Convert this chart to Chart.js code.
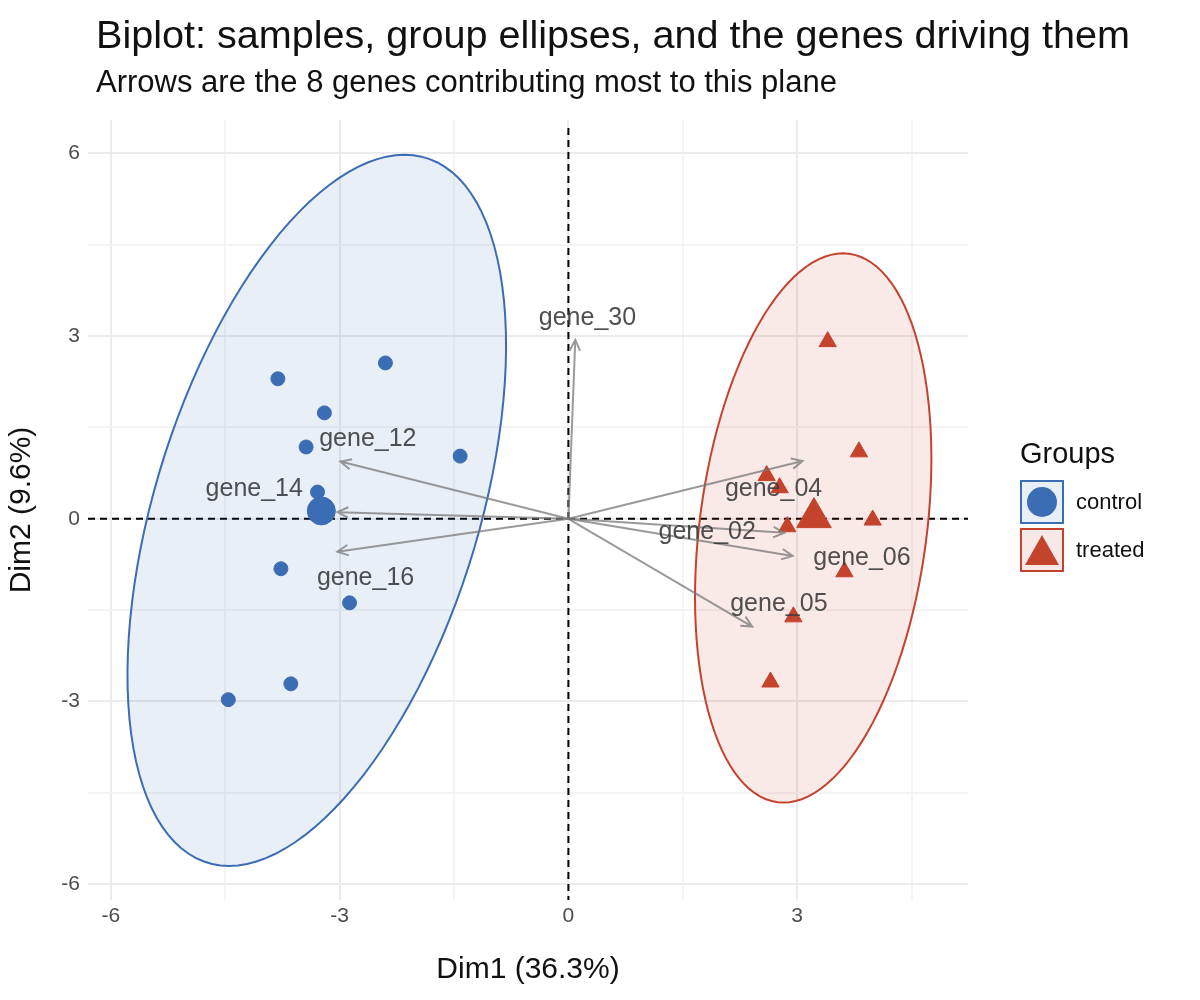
<!DOCTYPE html>
<html><head><meta charset="utf-8">
<script src="https://cdn.jsdelivr.net/npm/chart.js@4"></script>
<style>
body{margin:0;background:#fff;font-family:"Liberation Sans",Arial,sans-serif;}
#wrap{position:relative;width:1200px;height:1000px;}
#t{position:absolute;left:96px;top:12px;font-size:39.6px;color:#111;white-space:nowrap;}
#s{position:absolute;left:96px;top:64px;font-size:31px;color:#111;white-space:nowrap;}
#lg{position:absolute;left:1020px;top:437px;font-size:29px;color:#111;}
.it{display:flex;align-items:center;margin-top:10px;font-size:22px;}
.bx{width:44px;height:44px;border:2px solid;box-sizing:border-box;margin-right:12px;display:flex;align-items:center;justify-content:center;}
</style></head><body>
<div id="wrap">
<canvas id="c" width="1200" height="1000"></canvas>
<div id="t">Biplot: samples, group ellipses, and the genes driving them</div>
<div id="s">Arrows are the 8 genes contributing most to this plane</div>
<div id="lg">Groups
 <div class="it"><div class="bx" style="border-color:#3B6DB5;background:#E9EFF8"><div style="width:30px;height:30px;border-radius:50%;background:#3B6DB5"></div></div>control</div>
 <div class="it" style="margin-top:4px"><div class="bx" style="border-color:#C4432D;background:#F8E9E6"><div style="width:0;height:0;border-left:17px solid transparent;border-right:17px solid transparent;border-bottom:30px solid #C4432D"></div></div>treated</div>
</div>
</div>
<script>
// samples
var controlX = [-3.81, -2.40, -3.20, -3.44, -1.42, -3.29, -3.77, -2.87, -3.64, -4.46];
var controlY = [2.30, 2.56, 1.74, 1.18, 1.03, 0.44, -0.82, -1.38, -2.71, -2.97];
var treatedX = [3.40, 3.81, 2.60, 2.77, 2.87, 3.99, 3.62, 2.95, 2.65, 3.22];
var treatedY = [2.91, 1.10, 0.71, 0.51, -0.13, -0.02, -0.87, -1.61, -2.68, -0.05];
var centroidControl = [-3.24, 0.13];
var centroidTreated = [3.22, 0.02];

// ellipses: center, conjugate half-diameters
var ellControl = {c: [-3.3, 0.14], a: [1.15, 5.84], b: [2.2, 0]};
var ellTreated = {c: [3.21, -0.15], a: [0.39, 4.51], b: [1.5, 0]};

// gene arrows
var genes = ['gene_30', 'gene_12', 'gene_14', 'gene_16', 'gene_04', 'gene_02', 'gene_06', 'gene_05'];
var geneX = [0.09, -2.99, -3.03, -3.03, 3.07, 2.83, 2.94, 2.41];
var geneY = [2.94, 0.94, 0.11, -0.54, 0.95, -0.23, -0.61, -1.77];
var labelX = [0.25, -2.63, -4.12, -2.66, 2.69, 1.82, 3.85, 2.76];
var labelY = [3.30, 1.31, 0.48, -0.97, 0.49, -0.21, -0.64, -1.40];

var blue = '#3B6DB5', red = '#C4432D';
function pts(xs, ys) { return xs.map(function(x, i) { return {x: x, y: ys[i]}; }); }

var drawExtras = {
  id: 'extras',
  beforeDatasetsDraw: function(chart) {
    var ctx = chart.ctx, xs = chart.scales.x, ys = chart.scales.y;
    ctx.save();
    ctx.setLineDash([7, 5]); ctx.strokeStyle = '#000'; ctx.lineWidth = 2;
    ctx.beginPath();
    ctx.moveTo(xs.getPixelForValue(0), ys.top + 8); ctx.lineTo(xs.getPixelForValue(0), ys.bottom);
    ctx.moveTo(xs.left, ys.getPixelForValue(0)); ctx.lineTo(xs.right, ys.getPixelForValue(0));
    ctx.stroke();
    ctx.restore();
    [[ellControl, blue, 'rgba(59,109,181,0.11)'], [ellTreated, red, 'rgba(196,67,45,0.11)']].forEach(function(e) {
      var el = e[0];
      ctx.save();
      ctx.beginPath();
      for (var i = 0; i <= 120; i++) {
        var t = i / 120 * Math.PI * 2;
        var px = xs.getPixelForValue(el.c[0] + el.a[0] * Math.cos(t) + el.b[0] * Math.sin(t));
        var py = ys.getPixelForValue(el.c[1] + el.a[1] * Math.cos(t) + el.b[1] * Math.sin(t));
        if (i == 0) ctx.moveTo(px, py); else ctx.lineTo(px, py);
      }
      ctx.closePath();
      ctx.fillStyle = e[2]; ctx.fill();
      ctx.strokeStyle = e[1]; ctx.lineWidth = 2; ctx.stroke();
      ctx.restore();
    });
  },
  afterDatasetsDraw: function(chart) {
    var ctx = chart.ctx, xs = chart.scales.x, ys = chart.scales.y;
    var ox = xs.getPixelForValue(0), oy = ys.getPixelForValue(0);
    ctx.save();
    ctx.strokeStyle = 'rgba(120,120,120,0.75)'; ctx.lineWidth = 2;
    genes.forEach(function(g, i) {
      var ex = xs.getPixelForValue(geneX[i]), ey = ys.getPixelForValue(geneY[i]);
      var ang = Math.atan2(ey - oy, ex - ox);
      ctx.beginPath();
      ctx.moveTo(ox, oy); ctx.lineTo(ex, ey);
      ctx.moveTo(ex - 12 * Math.cos(ang - 0.45), ey - 12 * Math.sin(ang - 0.45));
      ctx.lineTo(ex, ey);
      ctx.lineTo(ex - 12 * Math.cos(ang + 0.45), ey - 12 * Math.sin(ang + 0.45));
      ctx.stroke();
    });
    ctx.fillStyle = 'rgba(60,60,60,0.9)';
    ctx.font = '25px "Liberation Sans", Arial, sans-serif';
    ctx.textAlign = 'center'; ctx.textBaseline = 'middle';
    genes.forEach(function(g, i) {
      ctx.fillText(g, xs.getPixelForValue(labelX[i]), ys.getPixelForValue(labelY[i]));
    });
    ctx.restore();
  }
};

function gridColor(c) { return Math.abs(c.tick.value % 3) < 1e-6 ? '#EBEBEB' : '#F4F4F4'; }

new Chart(document.getElementById('c'), {
  type: 'scatter',
  data: {datasets: [
    {data: pts(controlX, controlY), backgroundColor: blue, borderColor: blue, pointRadius: 7, pointStyle: 'circle'},
    {data: pts(treatedX, treatedY), backgroundColor: red, borderColor: red, pointRadius: 10, pointStyle: 'triangle'},
    {data: [{x: centroidControl[0], y: centroidControl[1]}], backgroundColor: blue, borderColor: blue, pointRadius: 14, pointStyle: 'circle'},
    {data: [{x: centroidTreated[0], y: centroidTreated[1]}], backgroundColor: red, borderColor: red, pointRadius: 20, pointStyle: 'triangle'}
  ]},
  options: {
    responsive: false, animation: false,
    layout: {padding: {top: 120, right: 232, left: 0, bottom: 8}},
    plugins: {legend: {display: false}, tooltip: {enabled: false}},
    scales: {
      x: {min: -6.3, max: 5.24,
        afterBuildTicks: function(s) { s.ticks = [-6, -4.5, -3, -1.5, 0, 1.5, 3, 4.5].map(function(v) { return {value: v}; }); },
        afterFit: function(s) { s.height = 92; },
        grid: {color: gridColor, lineWidth: 2, drawTicks: false},
        border: {display: false},
        ticks: {padding: 4, color: '#4D4D4D', font: {size: 21, family: 'Liberation Sans'},
          callback: function(v) { return v % 3 === 0 ? String(v) : ''; }},
        title: {display: true, text: 'Dim1 (36.3%)', color: '#111', font: {size: 30, family: 'Liberation Sans'}, padding: {top: 0}}
      },
      y: {min: -6.26, max: 6.55,
        afterBuildTicks: function(s) { s.ticks = [-6, -4.5, -3, -1.5, 0, 1.5, 3, 4.5, 6].map(function(v) { return {value: v}; }); },
        afterFit: function(s) { s.width = 88; },
        grid: {color: gridColor, lineWidth: 2, drawTicks: false},
        border: {display: false},
        ticks: {padding: 8, color: '#4D4D4D', font: {size: 21, family: 'Liberation Sans'},
          callback: function(v) { return v % 3 === 0 ? String(v) : ''; }},
        title: {display: true, text: 'Dim2 (9.6%)', color: '#111', font: {size: 30, family: 'Liberation Sans'}, padding: {bottom: 0}}
      }
    }
  },
  plugins: [drawExtras]
});
</script>
</body></html>
